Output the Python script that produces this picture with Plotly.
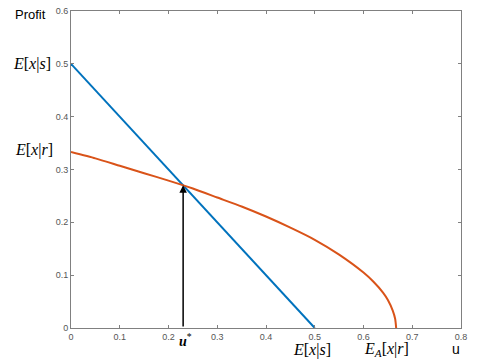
import plotly.graph_objects as go

# Data
u_blue = [0.0, 0.5]
profit_blue = [0.5, 0.0]

u_orange = [0.0, 0.05, 0.1, 0.15, 0.2, 0.25, 0.3, 0.35, 0.4, 0.45, 0.5,
            0.55, 0.6, 0.62, 0.64, 0.65, 0.66, 0.665, 0.667]
profit_orange = [0.333, 0.321, 0.307, 0.293, 0.279, 0.264, 0.247, 0.230, 0.211,
                 0.190, 0.167, 0.139, 0.105, 0.088, 0.067, 0.053, 0.033, 0.017, 0.0]

u_star = 0.23
profit_star = 0.27

x_ticks = [0, 0.1, 0.2, 0.3, 0.4, 0.5, 0.6, 0.7, 0.8]
y_ticks = [0, 0.1, 0.2, 0.3, 0.4, 0.5, 0.6]

BLUE = "#0072BD"
ORANGE = "#D95319"
SERIF = "Liberation Serif"

fig = go.Figure()
fig.add_trace(go.Scatter(x=u_blue, y=profit_blue, mode="lines",
                         line=dict(color=BLUE, width=2), showlegend=False,
                         hoverinfo="skip"))
fig.add_trace(go.Scatter(x=u_orange, y=profit_orange, mode="lines",
                         line=dict(color=ORANGE, width=2, shape="spline", smoothing=0.6),
                         showlegend=False, hoverinfo="skip"))

annotations = [
    dict(x=u_star, y=profit_star, ax=u_star, ay=0, xref="x", yref="y",
         axref="x", ayref="y", showarrow=True, arrowhead=2, arrowsize=1,
         arrowwidth=1.5, arrowcolor="black", text=""),
    dict(x=-0.045, y=0.5, xref="paper", yref="y", xanchor="right", yanchor="middle",
         text="<i>E</i>[<i>x</i>|<i>s</i>]", showarrow=False,
         font=dict(family=SERIF, size=16, color="black")),
    dict(x=-0.04, y=0.336, xref="paper", yref="y", xanchor="right", yanchor="middle",
         text="<i>E</i>[<i>x</i>|<i>r</i>]", showarrow=False,
         font=dict(family=SERIF, size=16, color="black")),
    dict(x=0.234, y=-0.038, xref="x", yref="paper", xanchor="center", yanchor="middle",
         text="<b><i>u</i></b><sup>*</sup>", showarrow=False,
         font=dict(family=SERIF, size=14, color="black")),
    dict(x=0.495, y=-0.068, xref="x", yref="paper", xanchor="center", yanchor="middle",
         text="<i>E</i>[<i>x</i>|<i>s</i>]", showarrow=False,
         font=dict(family=SERIF, size=16, color="black")),
    dict(x=0.648, y=-0.068, xref="x", yref="paper", xanchor="center", yanchor="middle",
         text="<i>E<sub>A</sub></i>[<i>x</i>|<i>r</i>]", showarrow=False,
         font=dict(family=SERIF, size=16, color="black")),
    dict(x=0.79, y=-0.066, xref="x", yref="paper", xanchor="center", yanchor="middle",
         text="u", showarrow=False,
         font=dict(family="Liberation Sans", size=14, color="black")),
    dict(x=-0.103, y=0.988, xref="paper", yref="paper", xanchor="center", yanchor="middle",
         text="Profit", showarrow=False,
         font=dict(family="Liberation Sans", size=13, color="black")),
]

axis_common = dict(showgrid=False, zeroline=False, showline=True, linecolor="#808080",
                   linewidth=1, mirror="ticks", ticks="inside", ticklen=3,
                   tickcolor="#808080",
                   tickfont=dict(family="Liberation Sans", size=9, color="#555555"))

fig.update_layout(
    width=480, height=360,
    margin=dict(l=71, r=19, t=6, b=32),
    plot_bgcolor="white", paper_bgcolor="white",
    xaxis=dict(range=[0, 0.8], tickvals=x_ticks, ticktext=[f"{v:g}" for v in x_ticks],
               **axis_common),
    yaxis=dict(range=[0, 0.6], tickvals=y_ticks, ticktext=[f"{v:g}" for v in y_ticks],
               **axis_common),
    annotations=annotations,
    hovermode=False,
)

fig.write_html("out.html", config={"displayModeBar": False},
               post_script="document.body.style.margin='0';document.body.style.overflow='hidden';")
